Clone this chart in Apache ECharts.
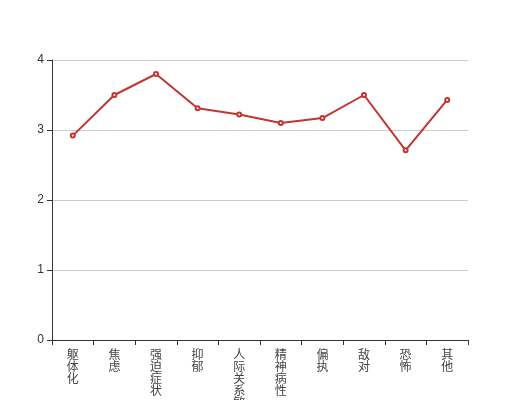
<!DOCTYPE html>
<html><head><meta charset="utf-8">
<script src="https://cdn.jsdelivr.net/npm/echarts@6/dist/echarts.min.js"></script>
<style>html,body{margin:0;padding:0;background:#fff}#c{width:520px;height:400px}</style>
</head><body><div id="c"></div>
<script>
var categories = ['躯体化','焦虑','强迫症状','抑郁','人际关系敏感','精神病性','偏执','敌对','恐怖','其他'];
var values = [2.92, 3.5, 3.8, 3.31, 3.22, 3.1, 3.17, 3.5, 2.71, 3.43];
var chart = echarts.init(document.getElementById('c'));
chart.setOption({
  animation: false,
  grid: {left: 52, right: 52, top: 60, bottom: 60, containLabel: false, outerBoundsMode: 'none'},
  xAxis: {
    type: 'category', data: categories, boundaryGap: true,
    axisLine: {lineStyle: {color: '#333'}},
    axisTick: {show: true, alignWithLabel: false, length: 5, lineStyle: {color: '#333'}},
    axisLabel: {color: '#444', fontSize: 12, lineHeight: 12, interval: 0,
      fontFamily: 'Noto Sans CJK SC',
      formatter: function(v){ return v.split('').join('\n'); }}
  },
  yAxis: {
    type: 'value', min: 0, max: 4, interval: 1,
    axisLine: {show: true, lineStyle: {color: '#333'}},
    axisTick: {show: true, length: 5, lineStyle: {color: '#333'}},
    axisLabel: {color: '#333', fontSize: 12},
    splitLine: {lineStyle: {color: '#ccc'}}
  },
  series: [{
    type: 'line', data: values, symbol: 'emptyCircle', symbolSize: 4,
    itemStyle: {color: '#c23531'}, lineStyle: {width: 2, color: '#c23531'}
  }]
});
</script></body></html>
